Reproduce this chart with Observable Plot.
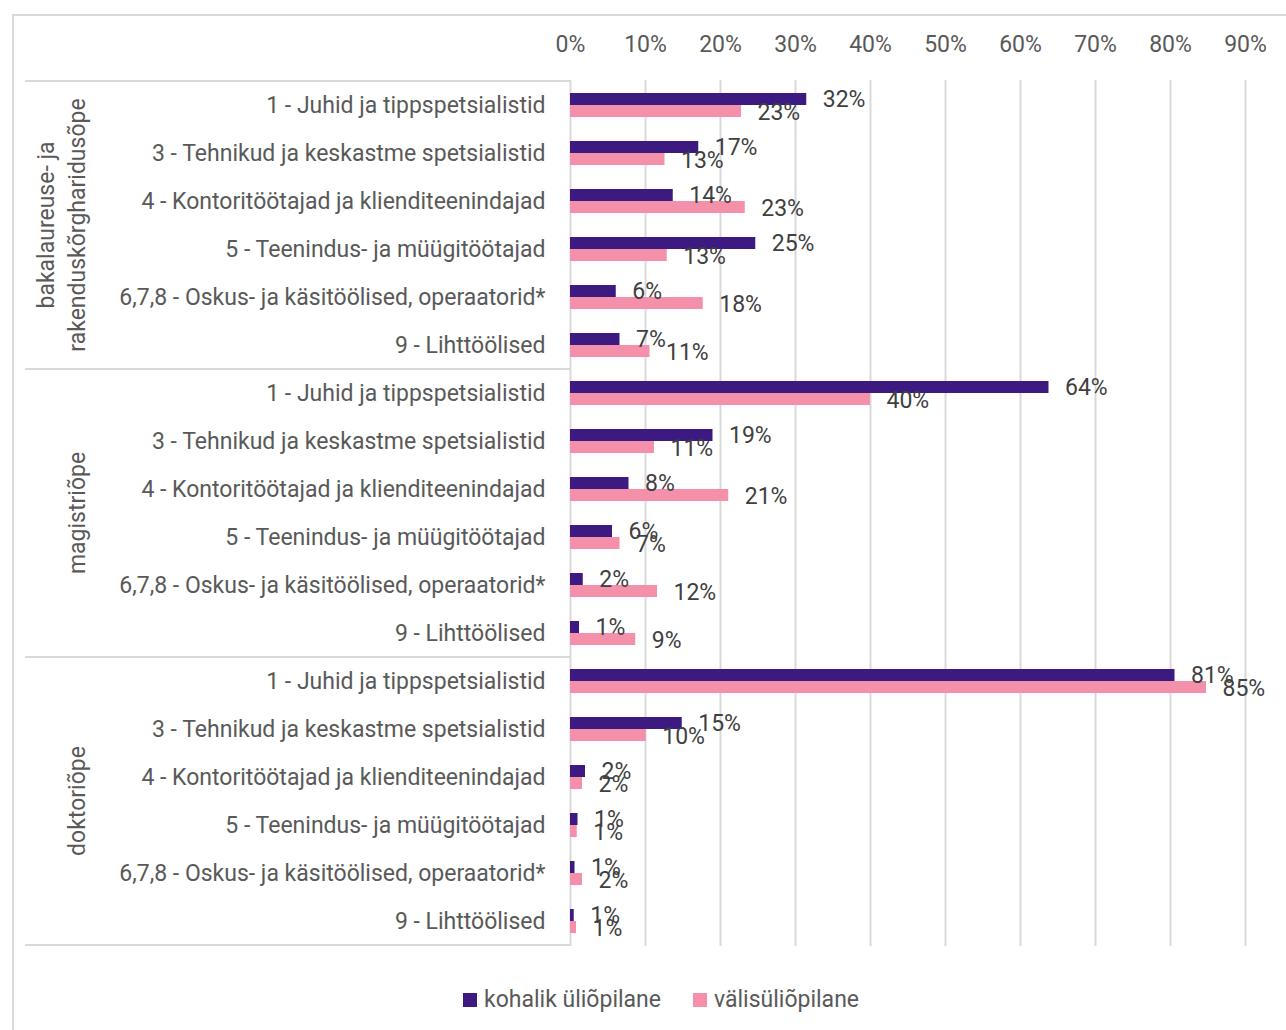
<!DOCTYPE html>
<html>
<head>
<meta charset="utf-8">
<script src="https://cdn.jsdelivr.net/npm/d3@7"></script>
<script src="https://cdn.jsdelivr.net/npm/@observablehq/plot@0.6"></script>
<style>
  html, body { margin: 0; padding: 0; background: #fff; }
  body { width: 1286px; height: 1030px; position: relative; overflow: hidden; font-family: Roboto, sans-serif; }
  #frame { position: absolute; left: 12px; top: 14px; width: 1300px; height: 1040px; border-left: 2px solid #d9d9d9; border-top: 2px solid #d9d9d9; box-sizing: border-box; }
  #chart { position: absolute; left: 0; top: 0; }
  #legend { position: absolute; top: 986px; left: 463px; display: flex; align-items: center; font-size: 23px; color: #595959; font-family: Roboto, sans-serif; }
  #legend .sw { width: 14px; height: 14px; display: inline-block; margin-right: 7px; }
  #legend .item { display: flex; align-items: center; margin-right: 32px; }
</style>
</head>
<body>
<div id="frame"></div>
<div id="chart"></div>
<div id="legend"></div>
<script>
// ---- data (percent) ----
const groups = ["bakalaureuse- ja rakenduskõrgharidusõpe", "magistriõpe", "doktoriõpe"];
const groupLines = [["bakalaureuse- ja", "rakenduskõrgharidusõpe"], ["magistriõpe"], ["doktoriõpe"]];
const categories = [
  "1 - Juhid ja tippspetsialistid",
  "3 - Tehnikud ja keskastme spetsialistid",
  "4 - Kontoritöötajad ja klienditeenindajad",
  "5 - Teenindus- ja müügitöötajad",
  "6,7,8 - Oskus- ja käsitöölised, operaatorid*",
  "9 - Lihttöölised"
];
const seriesNames = ["kohalik üliõpilane", "välisüliõpilane"];
const kohalikBak = [31.5, 17.1, 13.7, 24.7, 6.1, 6.6];
const kohalikMag = [63.8, 19.0, 7.8, 5.6, 1.7, 1.2];
const kohalikDok = [80.6, 14.9, 2.0, 1.0, 0.6, 0.5];
const valisBak = [22.8, 12.6, 23.3, 12.9, 17.7, 10.6];
const valisMag = [40.0, 11.2, 21.1, 6.6, 11.6, 8.7];
const valisDok = [84.8, 10.1, 1.6, 0.9, 1.6, 0.8];
const xTicks = [0, 10, 20, 30, 40, 50, 60, 70, 80, 90];

const colors = ["#3d1a82", "#f590aa"];
const kohalik = [kohalikBak, kohalikMag, kohalikDok];
const valis = [valisBak, valisMag, valisDok];

const rows = [];
groups.forEach((g, gi) => {
  categories.forEach((c, ci) => {
    rows.push({key: g + "|" + c, group: g, category: c, kohalik: kohalik[gi][ci], valis: valis[gi][ci]});
  });
});
const keys = rows.map(r => r.key);
const fmt = v => Math.round(v) + "%";

const plot = Plot.plot({
  width: 1286,
  height: 960,
  marginLeft: 570,
  marginRight: 41,
  marginTop: 80,
  marginBottom: 14,
  style: {fontFamily: "Roboto, sans-serif", fontSize: "23px", color: "#595959", background: "transparent", overflow: "visible"},
  x: {domain: [0, 90], axis: null},
  y: {domain: keys, padding: 0, axis: null},
  marks: [
    Plot.ruleX(xTicks, {x: d => d, stroke: "#d9d9d9", strokeWidth: 2}),
    Plot.axisX(xTicks, {anchor: "top", tickSize: 0, tickPadding: 29, tickFormat: d => d + "%", fontSize: 23, fill: "#595959", label: null}),
    Plot.axisY({anchor: "left", tickSize: 0, tickPadding: 25, tickFormat: k => k.split("|")[1], fontSize: 23, fill: "#595959", label: null}),
    Plot.barX(rows, {y: "key", x: "kohalik", fill: colors[0], insetTop: 12, insetBottom: 24}),
    Plot.barX(rows, {y: "key", x: "valis", fill: colors[1], insetTop: 24, insetBottom: 12}),
    Plot.text(rows, {y: "key", x: "kohalik", text: d => fmt(d.kohalik), textAnchor: "start", dx: 16, dy: -6, fill: "#404040", fontSize: 23}),
    Plot.text(rows, {y: "key", x: "valis", text: d => fmt(d.valis), textAnchor: "start", dx: 16, dy: 7, fill: "#404040", fontSize: 23})
  ]
});
document.getElementById("chart").appendChild(plot);

// group separators and rotated group labels, positioned via the plot's y scale
const ys = plot.scale("y");
const bw = ys.bandwidth;
const svg = d3.select(plot);
const deco = svg.append("g");
const boundaries = groups.map((g, gi) => ys.apply(keys[gi * 6]));
boundaries.push(ys.apply(keys[keys.length - 1]) + bw);
boundaries.forEach(yv => {
  deco.append("line").attr("x1", 25).attr("x2", 570).attr("y1", yv).attr("y2", yv)
    .attr("stroke", "#d9d9d9").attr("stroke-width", 2);
});
groups.forEach((g, gi) => {
  const mid = ys.apply(keys[gi * 6]) + 3 * bw;
  const lines = groupLines[gi];
  lines.forEach((t, li) => {
    const xx = lines.length === 2 ? (li === 0 ? 46 : 77) : 77;
    deco.append("text")
      .attr("transform", `translate(${xx},${mid}) rotate(-90)`)
      .attr("text-anchor", "middle")
      .attr("dominant-baseline", "central")
      .attr("fill", "#595959")
      .attr("font-size", 23)
      .attr("font-family", "Roboto, sans-serif")
      .text(t);
  });
});

// legend
const legend = d3.select("#legend");
seriesNames.forEach((s, i) => {
  const it = legend.append("div").attr("class", "item");
  it.append("span").attr("class", "sw").style("background", colors[i]);
  it.append("span").text(s);
});
</script>
</body>
</html>
